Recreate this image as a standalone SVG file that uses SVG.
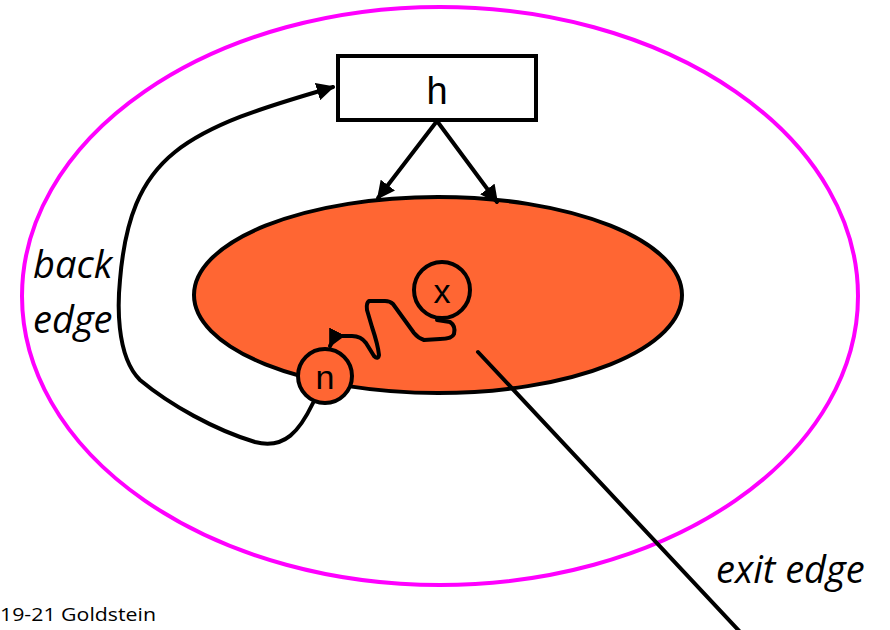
<svg xmlns="http://www.w3.org/2000/svg" width="890" height="630" viewBox="0 0 890 630">
<style>
.edge{fill:none;stroke:#000;stroke-width:4;stroke-linejoin:round;stroke-linecap:round}
.node{stroke:#000;stroke-width:4}
.lbl{font-family:"Open Sans","Liberation Sans",sans-serif;font-style:italic;font-size:38px;fill:#000}
.nt{font-family:"Liberation Sans",Arial,sans-serif;fill:#000;text-anchor:middle}
</style>
<defs>
<marker id="ah" viewBox="0 0 10 10" refX="9" refY="5" markerWidth="4.5" markerHeight="4.5" orient="auto" markerUnits="strokeWidth">
<path d="M0,0 L10,5 L0,10 Z" fill="#000"/>
</marker>
</defs>
<rect width="890" height="630" fill="#fff"/>
<g id="loop">
<ellipse cx="440" cy="296" rx="418" ry="289" fill="none" stroke="#FF00FF" stroke-width="4"/>
</g>
<g id="body">
<ellipse cx="438" cy="295" rx="244" ry="98" fill="#FF6633" class="node"/>
</g>
<g id="h">
<rect x="338" y="56" width="198" height="64" fill="#fff" class="node"/>
<text x="437" y="104" class="nt" font-size="38">h</text>
</g>
<g id="x">
<circle cx="442" cy="290" r="28" fill="#FF6633" class="node"/>
<text x="442" y="303" class="nt" font-size="34">x</text>
</g>
<g id="n">
<circle cx="325" cy="376" r="27" fill="#FF6633" class="node"/>
<text x="325" y="389" class="nt" font-size="34">n</text>
</g>
<g id="connectors">
<line x1="437" y1="121" x2="378" y2="198" class="edge" marker-end="url(#ah)"/>
<line x1="437" y1="121" x2="497" y2="202" class="edge" marker-end="url(#ah)"/>
<path class="edge" marker-end="url(#ah)" d="M437,320 L450,322 Q456,326 454,334 Q452,339 440,339 L424,340 Q418,338 414,333 L393,304 Q390,301 385,301 L369,301 Q366,303 367,310 L372,327 Q378,345 379,355 Q378,360 374,356 L366,343 Q361,336 352,336 L340,336 Q334,338 330,346"/>
<path class="edge" marker-end="url(#ah)" d="M313,403 C300,430 285,450 255,442 C215,430 170,405 140,380 C115,355 118,300 120,280 C125,220 140,180 175,152 C215,120 280,103 333,87"/>
<line x1="478" y1="352" x2="742" y2="634" class="edge"/>
</g>
<g id="labels">
<text x="33" y="278" class="lbl">back</text>
<text x="33" y="333" class="lbl">edge</text>
<text x="716" y="583" class="lbl" font-size="40">exit edge</text>
<text x="0" y="621" font-family="Open Sans, Liberation Sans, sans-serif" font-size="19" fill="#000" textLength="156" lengthAdjust="spacingAndGlyphs">19-21 Goldstein</text>
</g>
</svg>
